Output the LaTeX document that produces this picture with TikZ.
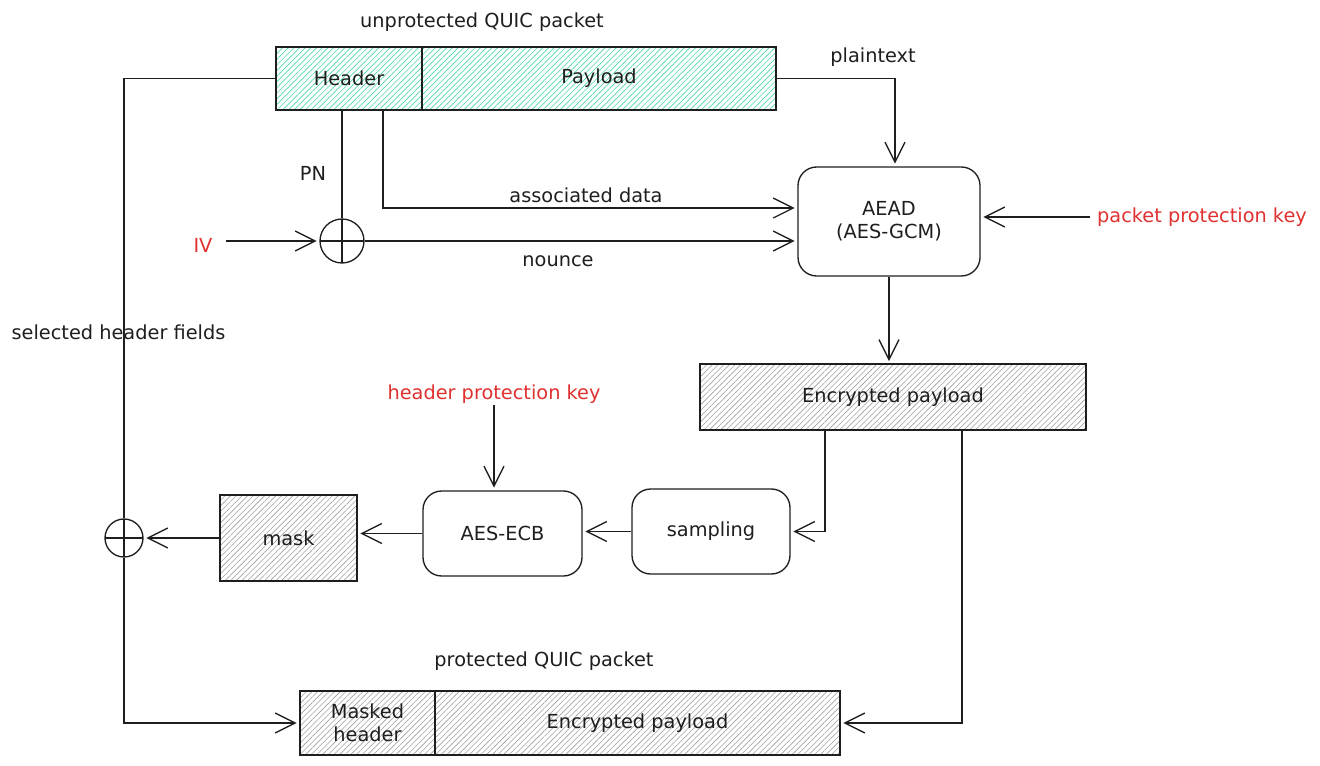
\documentclass[tikz,border=0pt]{standalone}
\usepackage{fontspec}
\setmainfont{DejaVu Sans}
\usetikzlibrary{arrows.meta,patterns.meta,calc}
\definecolor{ink}{HTML}{1E1E1E}
\definecolor{teal}{HTML}{4FD6AE}
\definecolor{hatchgray}{HTML}{A0A0A0}
\definecolor{keyred}{HTML}{E03131}
\tikzset{
  txt/.style={font=\fontsize{14.5}{17}\selectfont},
  base/.style={draw=ink, line width=1pt, text=ink, txt, align=center, inner sep=0pt},
  tealcell/.style={base, pattern={Lines[angle=45,distance=3pt,line width=0.5pt]}, pattern color=teal},
  graycell/.style={base, pattern={Lines[angle=45,distance=3pt,line width=0.45pt]}, pattern color=hatchgray},
  proc/.style={base, rounded corners=14pt},
  xor/.style={draw=ink, line width=1pt, circle, inner sep=0pt,
    path picture={\draw[ink, line width=1pt] (path picture bounding box.north) -- (path picture bounding box.south)
      (path picture bounding box.west) -- (path picture bounding box.east);}},
  lbl/.style={text=ink, txt, inner sep=1pt},
  redlbl/.style={text=keyred, txt, inner sep=1pt},
  conn/.style={draw=ink, line width=1pt},
  arr/.style={conn, -{Straight Barb[length=15pt,width=15pt,line width=1pt]}, shorten >=2pt},
}
\begin{document}
\begin{tikzpicture}[x=0.75pt, y=-0.75pt]
\useasboundingbox (0,0) rectangle (1320,766);

% top packet
\node[tealcell, minimum width=109.5pt, minimum height=47.25pt] (hdr) at (349,78.5) {Header};
\node[tealcell, minimum width=265.5pt, minimum height=47.25pt] (pay) at (599,78.5) {Payload};
\node[lbl] (ttop) at (482,22) {unprotected QUIC packet};

% AEAD
\node[proc, minimum width=136.5pt, minimum height=81.75pt] (aead) at (889,221.5) {AEAD\\(AES-GCM)};
\node[redlbl] (ppk) at (1202,217) {packet protection key};

% encrypted payload
\node[graycell, minimum width=289.5pt, minimum height=49.5pt] (enc) at (893,397) {Encrypted payload};

% sampling, AES-ECB, mask
\node[proc, minimum width=118.5pt, minimum height=63.75pt] (samp) at (711,531.5) {sampling};
\node[proc, minimum width=119.25pt, minimum height=63.75pt] (ecb) at (502.5,533.5) {AES-ECB};
\node[redlbl] (hpk) at (494,394) {header protection key};
\node[graycell, minimum width=102.75pt, minimum height=64.5pt] (mask) at (288.5,538) {mask};

% xors
\node[xor, minimum size=33pt] (xor1) at (342,241) {};
\node[xor, minimum size=28.5pt] (xor2) at (124,538) {};
\node[redlbl] (iv) at (203,245) {IV};

% bottom packet
\node[lbl] (tbot) at (544,661) {protected QUIC packet};
\node[graycell, minimum width=101.25pt, minimum height=48pt] (mhdr) at (367.5,723) {Masked\\header};
\node[graycell, minimum width=303.75pt, minimum height=48pt] (bpay) at (637.5,723) {Encrypted payload};

% labels
\node[lbl] (lpn) at (313,173) {PN};
\node[lbl] (lad) at (586,195) {associated data};
\node[lbl] (lno) at (558,261) {nounce};
\node[lbl] (lpt) at (873,57) {plaintext};
\node[lbl, anchor=west] (lsh) at (10,332) {selected header fields};

% connectors
\draw[arr] (pay.east) -| ([xshift=4.5pt]aead.north);
\draw[arr] ([xshift=25.5pt]hdr.south) |- ([yshift=10.1pt]aead.west);
\draw[conn] ([xshift=-5.25pt]hdr.south) -- (xor1.north);
\draw[arr] ([xshift=9pt]iv.east |- xor1.west) -- (xor1.west);
\draw[arr] (xor1.east) -- (xor1.east -| aead.west);
\draw[arr] ([xshift=-4pt]ppk.west) -- (ppk.west -| aead.east);
\draw[arr] (aead.south) -- (aead.south |- enc.north);
\draw[arr] ([xshift=-51pt]enc.south) |- (samp.east);
\draw[arr] ([xshift=51.75pt]enc.south) |- (bpay.east);
\draw[arr] (samp.west) -- (samp.west -| ecb.east);
\draw[arr] (hpk.south) -- (hpk.south |- ecb.north);
\draw[arr] (ecb.west) -- (ecb.west -| mask.east);
\draw[arr] (mask.west) -- (xor2.east);
\draw[conn] (hdr.west) -| (xor2.north);
\draw[arr] (xor2.south) |- (mhdr.west);
\end{tikzpicture}
\end{document}
